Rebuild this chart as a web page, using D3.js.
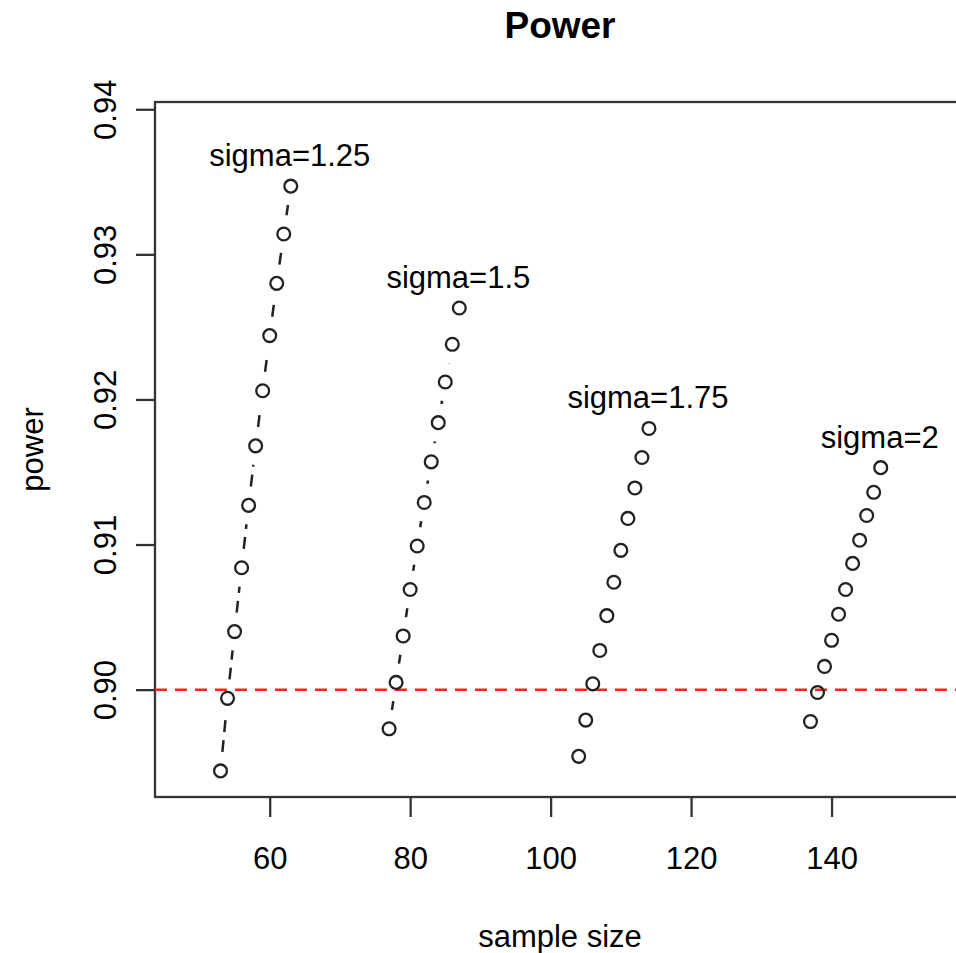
<!DOCTYPE html>
<html>
<head>
<meta charset="utf-8">
<script src="https://cdn.jsdelivr.net/npm/d3@7"></script>
<style>
    body { margin: 0; background: #fff; }
    text { font-family: "Liberation Sans", Arial, sans-serif; fill: #000; }
</style>
</head>
<body>
<script>
// data
const sigmas = ["1.25", "1.5", "1.75", "2"];
const sizes125 = [53, 54, 55, 56, 57, 58, 59, 60, 61, 62, 63];
const power125 = [0.8944, 0.8994, 0.9040, 0.9084, 0.9127, 0.9168, 0.9206, 0.9244, 0.9280, 0.9314, 0.9347];
const sizes150 = [77, 78, 79, 80, 81, 82, 83, 84, 85, 86, 87];
const power150 = [0.8973, 0.9005, 0.9037, 0.9069, 0.9099, 0.9129, 0.9157, 0.9184, 0.9212, 0.9238, 0.9263];
const sizes175 = [104, 105, 106, 107, 108, 109, 110, 111, 112, 113, 114];
const power175 = [0.8954, 0.8979, 0.9004, 0.9027, 0.9051, 0.9074, 0.9096, 0.9118, 0.9139, 0.9160, 0.9180];
const sizes200 = [137, 138, 139, 140, 141, 142, 143, 144, 145, 146, 147];
const power200 = [0.8978, 0.8998, 0.9016, 0.9034, 0.9052, 0.9069, 0.9087, 0.9103, 0.9120, 0.9136, 0.9153];
const xTicks = [60, 80, 100, 120, 140];
const yTicks = [0.90, 0.91, 0.92, 0.93, 0.94];
const target = 0.9;

const series = [
    { name: "sigma=" + sigmas[0], x: sizes125, y: power125 },
    { name: "sigma=" + sigmas[1], x: sizes150, y: power150 },
    { name: "sigma=" + sigmas[2], x: sizes175, y: power175 },
    { name: "sigma=" + sigmas[3], x: sizes200, y: power200 }
];

const width = 956, height = 953;
const margin = { top: 102, right: -9, bottom: 156, left: 155 };
const fontSize = 31;

const x = d3.scaleLinear().domain([43.67, 159]).range([margin.left, width - margin.right]);
const y = d3.scaleLinear().domain([0.8926, 0.9405]).range([height - margin.bottom, margin.top]);

const svg = d3.select('body').append('svg')
    .attr('width', width)
    .attr('height', height);

svg.append('defs').append('clipPath').attr('id', 'plot-clip')
    .append('rect')
    .attr('x', margin.left).attr('y', margin.top)
    .attr('width', x.range()[1] - margin.left)
    .attr('height', height - margin.bottom - margin.top);

const chart = svg.append('g').attr('class', 'chart');
const cx = (x.range()[0] + x.range()[1]) / 2;

// x axis
const gx = chart.append('g')
    .attr('transform', `translate(0,${height - margin.bottom})`)
    .call(d3.axisBottom(x).tickValues(xTicks).tickSize(20).tickPadding(30).tickSizeOuter(0));
gx.select('.domain').remove();
gx.selectAll('line').attr('stroke', '#333').attr('stroke-width', 2.3);
gx.selectAll('text').attr('font-size', fontSize).attr('font-family', null);

// y axis
const gy = chart.append('g')
    .attr('transform', `translate(${margin.left},0)`)
    .call(d3.axisLeft(y).tickValues(yTicks).tickFormat(d3.format('.2f')).tickSize(19).tickSizeOuter(0));
gy.select('.domain').remove();
gy.selectAll('line').attr('stroke', '#333').attr('stroke-width', 2.3);
gy.selectAll('text')
    .attr('font-size', fontSize).attr('font-family', null)
    .attr('text-anchor', 'middle')
    .attr('dy', null)
    .attr('x', null)
    .attr('transform', `translate(-39,0) rotate(-90)`);

// plot box
chart.append('rect')
    .attr('x', margin.left).attr('y', margin.top)
    .attr('width', x.range()[1] - margin.left)
    .attr('height', height - margin.bottom - margin.top)
    .attr('fill', 'none')
    .attr('stroke', '#333')
    .attr('stroke-width', 2.3);

const plot = chart.append('g').attr('clip-path', 'url(#plot-clip)');

// target line
plot.append('line')
    .attr('x1', margin.left).attr('x2', x.range()[1])
    .attr('y1', y(target)).attr('y2', y(target))
    .attr('stroke', '#ff2020')
    .attr('stroke-width', 2.5)
    .attr('stroke-dasharray', '12,8');

// type="b": dashed segments with a gap around each point
const gap = 19;
series.forEach(s => {
    const pts = s.x.map((v, i) => [x(v), y(s.y[i])]);
    const segs = [];
    for (let i = 1; i < pts.length; i++) {
        const [x0, y0] = pts[i - 1], [x1, y1] = pts[i];
        const len = Math.hypot(x1 - x0, y1 - y0);
        if (len > 2 * gap) {
            const ux = (x1 - x0) / len, uy = (y1 - y0) / len;
            segs.push([x0 + ux * gap, y0 + uy * gap, x1 - ux * gap, y1 - uy * gap]);
        }
    }
    plot.append('g').selectAll('line').data(segs).join('line')
        .attr('x1', d => d[0]).attr('y1', d => d[1])
        .attr('x2', d => d[2]).attr('y2', d => d[3])
        .attr('stroke', '#222')
        .attr('stroke-width', 2.5)
        .attr('stroke-dasharray', '12,8');

    plot.append('g').selectAll('circle').data(pts).join('circle')
        .attr('cx', d => d[0])
        .attr('cy', d => d[1])
        .attr('r', 6.4)
        .attr('fill', 'none')
        .attr('stroke', '#222')
        .attr('stroke-width', 2.3);

    const last = pts[pts.length - 1];
    chart.append('text')
        .attr('x', last[0] - 1)
        .attr('y', last[1] - 20)
        .attr('text-anchor', 'middle')
        .attr('font-size', fontSize)
        .text(s.name);
});

// titles
svg.append('text')
    .attr('x', cx).attr('y', 38)
    .attr('text-anchor', 'middle')
    .attr('font-size', 37)
    .attr('font-weight', 'bold')
    .text('Power');

svg.append('text')
    .attr('x', cx).attr('y', 947)
    .attr('text-anchor', 'middle')
    .attr('font-size', fontSize)
    .text('sample size');

svg.append('text')
    .attr('transform', `translate(43,${(margin.top + height - margin.bottom) / 2}) rotate(-90)`)
    .attr('text-anchor', 'middle')
    .attr('font-size', fontSize)
    .text('power');
</script>
</body>
</html>
